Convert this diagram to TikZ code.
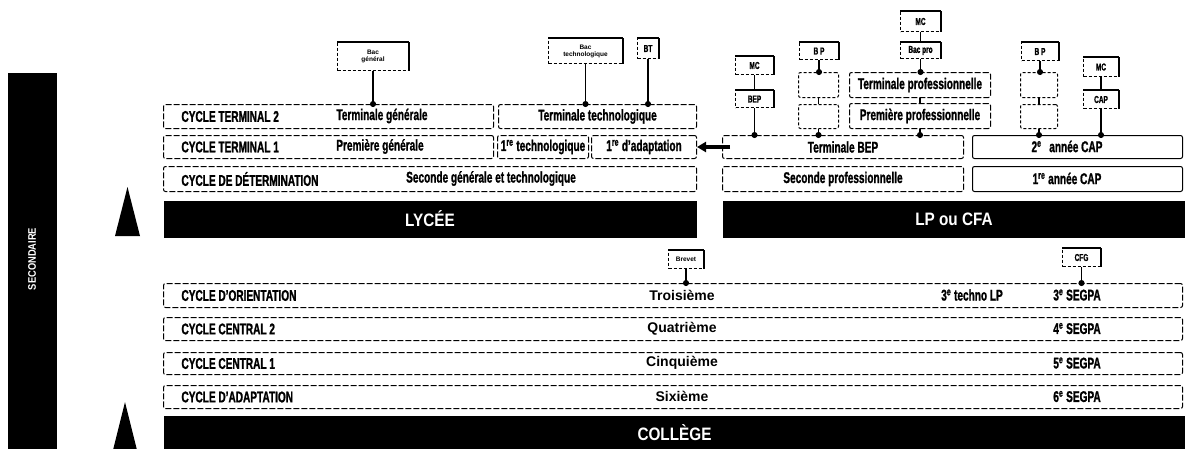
\documentclass[tikz,border=0pt]{standalone}
\usepackage{fontspec}
\setmainfont{Liberation Sans}
\newfontfamily\condfont{Liberation Sans}[FakeStretch=0.65, BoldFeatures={FakeBold=1.2}]
\newfontfamily\barfont{Liberation Sans}[FakeStretch=0.85]
\usetikzlibrary{positioning,arrows.meta}

\begin{document}
\begin{tikzpicture}[x=1pt, y=-1pt, line width=1pt,
	dims/.style 2 args={minimum width=#1pt, minimum height=#2pt},
	row box/.style={draw, dash pattern=on 6pt off 2pt, rounded corners=2pt, inner sep=0pt, anchor=north west,
		font=\condfont\bfseries\fontsize{15.5}{15.5}\selectfont},
	solid box/.style={row box, solid},
	empty box/.style={draw, dash pattern=on 3pt off 2pt, rounded corners=2pt, inner sep=0pt, anchor=north west},
	small box/.style={draw, dash pattern=on 3pt off 2pt, inner sep=1pt, anchor=north west, align=center,
		font=\condfont\bfseries\fontsize{10}{10}\selectfont,
		append after command={(\tikzlastnode.north west) edge[solid, line width=1.4pt] (\tikzlastnode.north east)
			(\tikzlastnode.north east) edge[solid, line width=1.4pt] (\tikzlastnode.south east)}},
	tiny text/.style={font=\bfseries\fontsize{6.5}{7}\selectfont},
	black bar/.style={fill=black, inner sep=0pt, anchor=north west, text=white,
		font=\barfont\bfseries\fontsize{18}{18}\selectfont},
	cycle label/.style={anchor=west, inner sep=0pt, font=\condfont\bfseries\fontsize{15.5}{15.5}\selectfont},
	row text/.style={inner sep=0pt, font=\condfont\bfseries\fontsize{15.5}{15.5}\selectfont},
	college text/.style={inner sep=0pt, font=\bfseries\fontsize{14}{14}\selectfont},
	link/.style={line width=1.5pt, -{Circle[length=6pt]}, shorten >=-3pt},
	step link/.style={line width=1.5pt},
	big arrow/.style={line width=3.5pt, -{Triangle[length=9pt, width=10pt]}}]

	\useasboundingbox (0,0) rectangle (1185,448);

	\node[black bar, dims={49}{378}] (sec) at (7,72) {};
	\node[rotate=90, text=white, inner sep=0pt, font=\barfont\bfseries\fontsize{11}{11}\selectfont] (secl) at (32,259) {SECONDAIRE};
	\fill (115,236) -- (127.5,187) -- (140,236) -- cycle;
	\fill (113,450) -- (125,402) -- (137,450) -- cycle;

	\node[row box, dims={330}{24}] (t2) at (163,104) {};
	\node[cycle label] (t2l) at ([xshift=18pt]t2.west) {CYCLE TERMINAL 2};
	\node[row text] (tgen) at (382,116) {Terminale générale};
	\node[row box, dims={198}{24}] (ttech) at (498,104) {Terminale technologique};
	\node[row box, dims={330}{23}] (t1) at (163,135) {};
	\node[cycle label] (t1l) at ([xshift=18pt]t1.west) {CYCLE TERMINAL 1};
	\node[row text] (pgen) at (380,146.5) {Première générale};
	\node[row box, dims={91}{23}] (ptech) at (497,135) {1\textsuperscript{re} technologique};
	\node[row box, dims={105}{23}] (padapt) at (591,135) {1\textsuperscript{re} d’adaptation};
	\node[row box, dims={533}{25}] (det) at (163,166) {};
	\node[cycle label] (detl) at ([xshift=18pt]det.west) {CYCLE DE DÉTERMINATION};
	\node[row text] (sgt) at (491,178.5) {Seconde générale et technologique};
	\node[black bar, dims={533}{37}] (lycee) at (163,200) {LYCÉE};

	\node[row box, dims={241}{23}] (tbep) at (722,135) {Terminale BEP};
	\node[row box, dims={241}{25}] (secpro) at (722,166) {Seconde professionnelle};
	\node[solid box, dims={210}{23}] (cap2) at (972,135) {};
	\node[row text] (cap2l) at (1067,146.5) {2\textsuperscript{e}\enspace année CAP};
	\node[solid box, dims={210}{25}] (cap1) at (972,166) {};
	\node[row text] (cap1l) at (1067,178.5) {1\textsuperscript{re} année CAP};
	\node[black bar, dims={463}{37}] (lp) at (722,200) {LP ou CFA};

	\node[row box, dims={141}{25}] (tpro) at (849,72) {Terminale professionnelle};
	\node[row box, dims={141}{25}] (ppro) at (849,103) {Première professionnelle};
	\node[empty box, dims={40}{25}] (bpa) at (798,72) {};
	\node[empty box, dims={40}{24}] (bpb) at (798,104) {};
	\node[empty box, dims={37}{25}] (bpc) at (1020,72) {};
	\node[empty box, dims={37}{24}] (bpd) at (1020,104) {};

	\node[small box, dims={71}{28}, tiny text] (bacg) at (337,42) {Bac\\général};
	\node[small box, dims={74}{25}, tiny text] (bact) at (548,38) {Bac\\technologique};
	\node[small box, dims={21}{20}] (bt) at (637,38) {BT};
	\node[small box, dims={38}{17}] (bep) at (735,90) {BEP};
	\node[small box, dims={38}{18}, above=15pt of bep] (mca) {MC};
	\node[small box, dims={39}{17}] (bpx) at (799,42) {B P};
	\node[small box, dims={40}{16}] (bacpro) at (900,42) {Bac pro};
	\node[small box, dims={40}{20}, above=10pt of bacpro] (mcb) {MC};
	\node[small box, dims={37}{18}] (bpy) at (1021,42) {B P};
	\node[small box, dims={35}{18}] (cap) at (1083,90) {CAP};
	\node[small box, dims={35}{19}, above=13pt of cap] (mcc) {MC};

	\node[row box, dims={1019}{24}] (orient) at (163,283) {};
	\node[cycle label] (orientl) at ([xshift=18pt]orient.west) {CYCLE D’ORIENTATION};
	\node[college text] (troisieme) at (682,295) {Troisième};
	\node[row text] (techlp) at (972,295) {3\textsuperscript{e} techno LP};
	\node[row text] (seg3) at (1077,295) {3\textsuperscript{e} SEGPA};
	\node[row box, dims={1019}{23}] (cc2) at (163,317) {};
	\node[cycle label] (cc2l) at ([xshift=18pt]cc2.west) {CYCLE CENTRAL 2};
	\node[college text] (quatrieme) at (682,328.5) {Quatrième};
	\node[row text] (seg4) at (1077,328.5) {4\textsuperscript{e} SEGPA};
	\node[row box, dims={1019}{22}] (cc1) at (163,352) {};
	\node[cycle label] (cc1l) at ([xshift=18pt]cc1.west) {CYCLE CENTRAL 1};
	\node[college text] (cinquieme) at (682,363) {Cinquième};
	\node[row text] (seg5) at (1077,363) {5\textsuperscript{e} SEGPA};
	\node[row box, dims={1019}{23}] (cadapt) at (163,385) {};
	\node[cycle label] (cadaptl) at ([xshift=18pt]cadapt.west) {CYCLE D’ADAPTATION};
	\node[college text] (sixieme) at (682,396.5) {Sixième};
	\node[row text] (seg6) at (1077,396.5) {6\textsuperscript{e} SEGPA};
	\node[black bar, dims={1022}{35}] (college) at (163,415) {COLLÈGE};

	\node[small box, dims={35}{18}, tiny text] (brevet) at (668,250) {Brevet};
	\node[small box, dims={38}{18}] (cfg) at (1062,248) {CFG};

	\path[link]
	 (bacg.south) edge (bacg.south |- t2.north)
	 (bact.south) edge (bact.south |- ttech.north)
	 (bt.south) edge (bt.south |- ttech.north)
	 (bep.south) edge (bep.south |- tbep.north)
	 (bpx.south) edge (bpx.south |- bpa.north)
	 (bpb.south) edge (bpb.south |- tbep.north)
	 (bacpro.south) edge (bacpro.south |- tpro.north)
	 (ppro.south) edge (ppro.south |- tbep.north)
	 (bpy.south) edge (bpy.south |- bpc.north)
	 (bpd.south) edge (bpd.south |- cap2.north)
	 (cap.south) edge (cap.south |- cap2.north)
	 (brevet.south) edge (brevet.south |- orient.north)
	 (cfg.south) edge (cfg.south |- orient.north);

	\path[step link]
	 (mca) edge (bep)
	 (mcb) edge (bacpro)
	 (mcc) edge (cap)
	 (bpa) edge (bpb)
	 (tpro) edge (ppro)
	 (bpc) edge (bpd);

	\draw[big arrow] ([xshift=8pt]tbep.west) -- (padapt.east);

\end{tikzpicture}
\end{document}
